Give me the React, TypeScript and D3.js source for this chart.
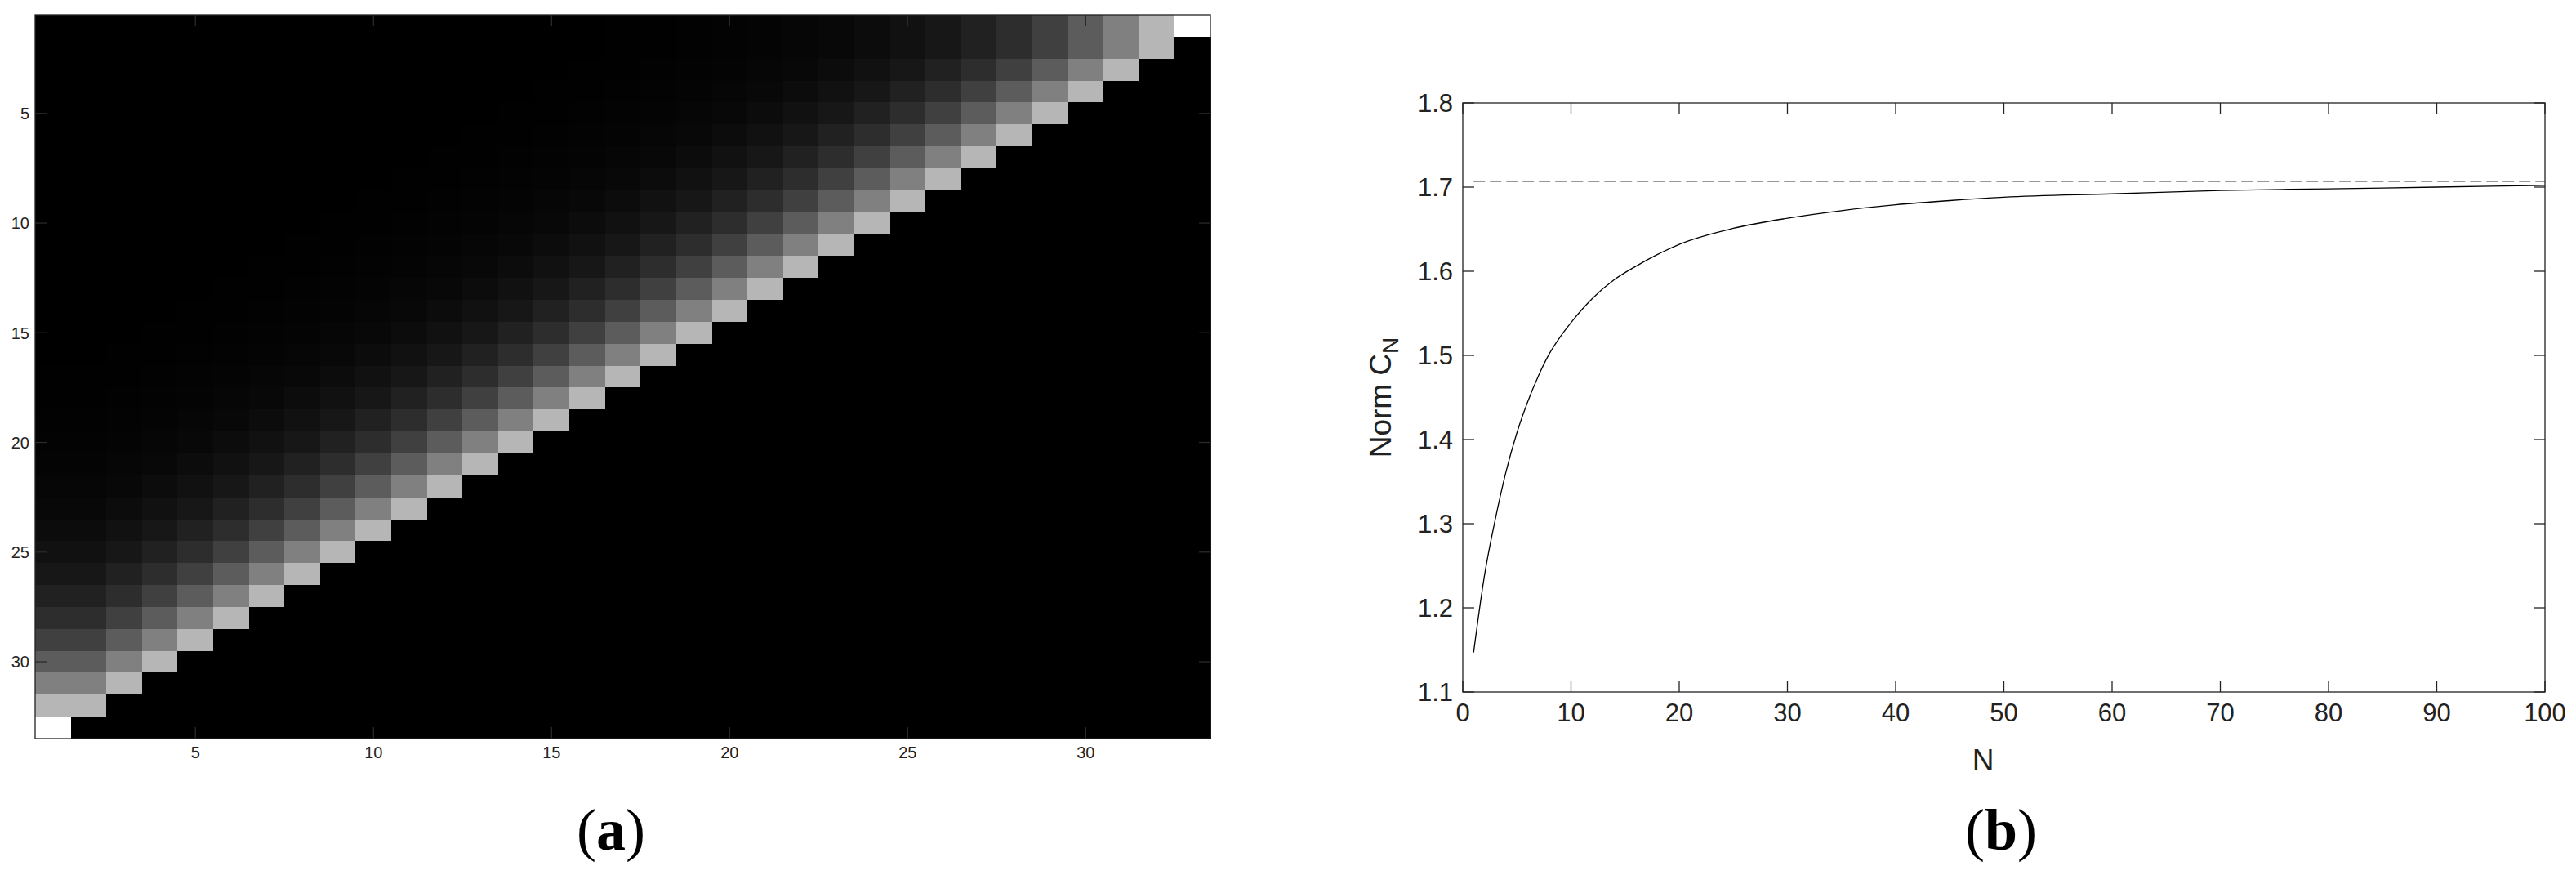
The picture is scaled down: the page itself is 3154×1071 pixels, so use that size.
import React from 'react';
import * as d3 from 'd3';

// ---------- Panel (a): 33x33 grey-scale matrix ----------
const GRID_SIZE = 33;
const gridIndex = d3.range(1, GRID_SIZE + 1);
// grey level (0-255) read per anti-diagonal distance from the bright diagonal
const antiDiagLevels = [182, 128, 92, 64, 45, 33, 23, 17, 12, 8, 6, 4, 3, 2, 1, 1];
const cornerLevel = 255;
const heatTicks = [5, 10, 15, 20, 25, 30];

// ---------- Panel (b): Norm C_N ----------
const normN = [1, 2, 3, 4, 5, 6, 7, 8, 9, 10, 12, 14, 16, 18, 20, 25, 30, 35, 40, 45, 50, 60, 70, 80, 90, 100];
const normValues = [1.147, 1.238, 1.305, 1.362, 1.408, 1.445, 1.476, 1.502, 1.522, 1.539, 1.568, 1.59, 1.606, 1.62, 1.632, 1.651, 1.663, 1.672, 1.679, 1.684, 1.688, 1.692, 1.696, 1.698, 1.7, 1.702];
const normLimit = 1.7071;
const normXTicks = [0, 10, 20, 30, 40, 50, 60, 70, 80, 90, 100];
const normYTicks = [1.1, 1.2, 1.3, 1.4, 1.5, 1.6, 1.7, 1.8];

function cellLevel(r: number, c: number): number {
  if ((r === GRID_SIZE && c === 1) || (r === 1 && c === GRID_SIZE)) return cornerLevel;
  const rr = Math.max(r, 2);
  const cc = Math.max(c, 2);
  const d = GRID_SIZE + 1 - rr - cc;
  if (d < 0) return 0;
  return antiDiagLevels[d] ?? 0;
}

const AX = '#222';
const SANS = '"Liberation Sans", Arial, Helvetica, sans-serif';
const SERIF = '"Liberation Serif", "Times New Roman", serif';

export default function App() {
  // panel a geometry
  const aL = 43, aR = 1482, aT = 18, aB = 904;
  const xA = d3.scaleLinear().domain([0.5, GRID_SIZE + 0.5]).range([aL, aR]);
  const yA = d3.scaleLinear().domain([0.5, GRID_SIZE + 0.5]).range([aT, aB]);

  // panel b geometry
  const bL = 1791, bR = 3116, bT = 126, bB = 847;
  const xB = d3.scaleLinear().domain([0, 100]).range([bL, bR]);
  const yB = d3.scaleLinear().domain([1.1, 1.8]).range([bB, bT]);

  const cells: { r: number; c: number; v: number }[] = [];
  gridIndex.forEach((r) => gridIndex.forEach((c) => cells.push({ r, c, v: cellLevel(r, c) })));

  const normData = normN.map((n, i) => [n, normValues[i]] as [number, number]);
  const line = d3
    .line<[number, number]>()
    .x((d) => xB(d[0]))
    .y((d) => yB(d[1]))
    .curve(d3.curveMonotoneX);

  const tickA = 14;
  const tickB = 14;

  return (
    <svg
      width={3154}
      height={1071}
      style={{ position: 'absolute', left: 0, top: 0, background: '#fff' }}
      xmlns="http://www.w3.org/2000/svg"
    >
      <rect x={0} y={0} width={3154} height={1071} fill="#fff" />
      {/* ---------- Panel (a) ---------- */}
      <g shapeRendering="crispEdges">
        {cells.map((d) => (
          <rect
            key={`${d.r}-${d.c}`}
            x={xA(d.c - 0.5)}
            y={yA(d.r - 0.5)}
            width={xA(d.c + 0.5) - xA(d.c - 0.5) + 0.5}
            height={yA(d.r + 0.5) - yA(d.r - 0.5) + 0.5}
            fill={d3.rgb(d.v, d.v, d.v).formatHex()}
          />
        ))}
      </g>
      <g stroke="#2a2a2a" strokeWidth={1.3}>
        {heatTicks.map((t) => (
          <g key={`at${t}`}>
            <line x1={xA(t)} x2={xA(t)} y1={aB} y2={aB - tickA} />
            <line x1={xA(t)} x2={xA(t)} y1={aT} y2={aT + tickA} />
            <line x1={aL} x2={aL + tickA} y1={yA(t)} y2={yA(t)} />
            <line x1={aR} x2={aR - tickA} y1={yA(t)} y2={yA(t)} />
          </g>
        ))}
      </g>
      <rect x={aL} y={aT} width={aR - aL} height={aB - aT} fill="none" stroke={AX} strokeWidth={1.3} />
      <g fontFamily={SANS} fontSize={20} fill={AX}>
        {heatTicks.map((t) => (
          <text key={`ax${t}`} x={xA(t)} y={928} textAnchor="middle">
            {t}
          </text>
        ))}
        {heatTicks.map((t) => (
          <text key={`ay${t}`} x={36} y={yA(t)} dy="0.36em" textAnchor="end">
            {t}
          </text>
        ))}
      </g>
      <text x={748} y={1040} textAnchor="middle" fontFamily={SERIF} fontSize={72} fill="#000">
        (<tspan fontWeight="bold">a</tspan>)
      </text>

      {/* ---------- Panel (b) ---------- */}
      <line
        x1={xB(normN[0])}
        x2={xB(100)}
        y1={yB(normLimit)}
        y2={yB(normLimit)}
        stroke="#333"
        strokeWidth={1.4}
        strokeDasharray="14 6"
      />
      <path d={line(normData) || ''} fill="none" stroke="#000" strokeWidth={1.3} />
      <g stroke={AX} strokeWidth={1.3}>
        {normXTicks.map((t) => (
          <g key={`bx${t}`}>
            <line x1={xB(t)} x2={xB(t)} y1={bB} y2={bB - tickB} />
            <line x1={xB(t)} x2={xB(t)} y1={bT} y2={bT + tickB} />
          </g>
        ))}
        {normYTicks.map((t) => (
          <g key={`by${t}`}>
            <line x1={bL} x2={bL + tickB} y1={yB(t)} y2={yB(t)} />
            <line x1={bR} x2={bR - tickB} y1={yB(t)} y2={yB(t)} />
          </g>
        ))}
      </g>
      <rect x={bL} y={bT} width={bR - bL} height={bB - bT} fill="none" stroke={AX} strokeWidth={1.3} />
      <g fontFamily={SANS} fontSize={31} fill={AX}>
        {normXTicks.map((t) => (
          <text key={`bxl${t}`} x={xB(t)} y={883} textAnchor="middle">
            {t}
          </text>
        ))}
        {normYTicks.map((t) => (
          <text key={`byl${t}`} x={1779} y={yB(t)} dy="0.36em" textAnchor="end">
            {t.toFixed(1)}
          </text>
        ))}
      </g>
      <text x={2428} y={943} textAnchor="middle" fontFamily={SANS} fontSize={37} fill={AX}>
        N
      </text>
      <text
        transform={`translate(1703, ${(bT + bB) / 2}) rotate(-90)`}
        textAnchor="middle"
        fontFamily={SANS}
        fontSize={37}
        fill={AX}
      >
        Norm C<tspan fontSize={28} dy={9}>N</tspan>
      </text>
      <text x={2450} y={1040} textAnchor="middle" fontFamily={SERIF} fontSize={72} fill="#000">
        (<tspan fontWeight="bold">b</tspan>)
      </text>
    </svg>
  );
}
